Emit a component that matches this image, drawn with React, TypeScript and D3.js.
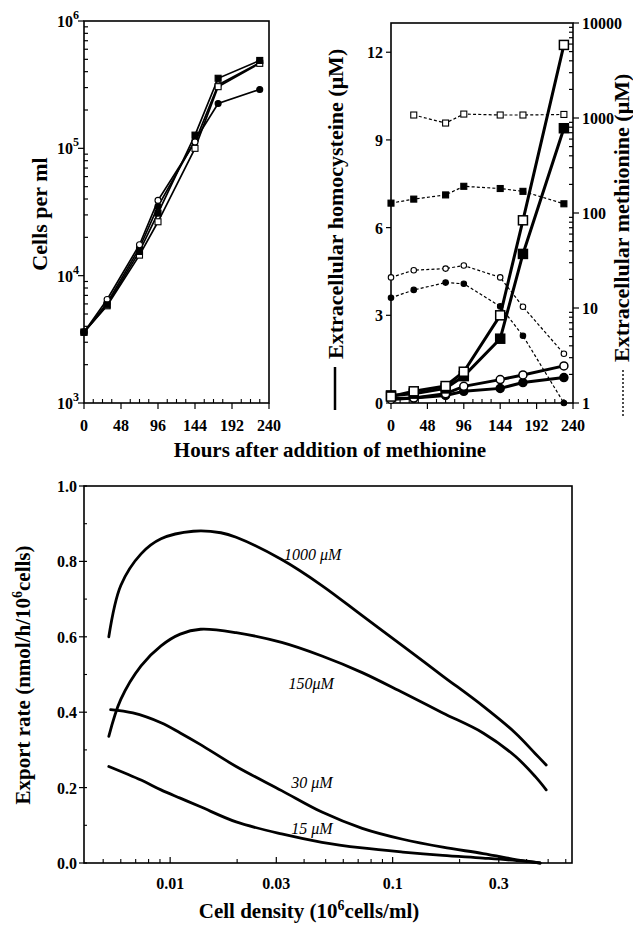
import React from 'react';
import * as d3 from 'd3';

// ---------- Panel A: growth curves ----------
const hours = [0, 30, 72, 96, 144, 174, 228];
const cellsFilledSquare = [3600, 5900, 15500, 31000, 127000, 355000, 490000];
const cellsOpenSquare = [3600, 5800, 14500, 26500, 100000, 305000, 465000];
const cellsFilledCircle = [3600, 6100, 16500, 35000, 115000, 225000, 290000];
const cellsOpenCircle = [3600, 6500, 17500, 39000, 112000, 315000, 470000];

// ---------- Panel B: homocysteine (solid, left) & methionine (dotted, right) ----------
const hcyOpenSquare = [0.22, 0.4, 0.58, 1.07, 3.0, 6.25, 12.25];
const hcyFilledSquare = [0.26, 0.32, 0.5, 0.92, 2.2, 5.1, 9.4];
const hcyOpenCircle = [0.12, 0.17, 0.32, 0.57, 0.8, 0.96, 1.27];
const hcyFilledCircle = [0.15, 0.17, 0.26, 0.4, 0.5, 0.7, 0.87];

const metOpenSquare: (number | null)[] = [null, 1075, 885, 1100, 1075, 1075, 1090];
const metFilledSquare = [127, 140, 155, 191, 181, 169, 125];
const metOpenCircle = [21, 25, 26, 28, 21, 10.3, 3.3];
const metFilledCircle = [12.8, 15.5, 18.5, 18, 10.4, 5.1, 1.0];

const hourTicks = [0, 48, 96, 144, 192, 240];
const cellTickExps = [3, 4, 5, 6];
const hcyTicks = [0, 3, 6, 9, 12];
const metTicks = [1, 10, 100, 1000, 10000];

// ---------- Panel C: export rate vs cell density ----------
const c1000Density = [0.0053, 0.006, 0.0074, 0.0091, 0.0127, 0.0169, 0.0198, 0.0317, 0.0481, 0.073, 0.111, 0.168, 0.255, 0.356, 0.438, 0.49];
const c1000Rate = [0.6, 0.736, 0.82, 0.86, 0.88, 0.876, 0.864, 0.805, 0.736, 0.656, 0.576, 0.496, 0.416, 0.345, 0.29, 0.26];
const c150Density = [0.0053, 0.006, 0.0074, 0.0091, 0.0111, 0.0137, 0.0198, 0.0317, 0.0481, 0.073, 0.111, 0.168, 0.255, 0.356, 0.438, 0.49];
const c150Rate = [0.336, 0.434, 0.523, 0.576, 0.607, 0.62, 0.611, 0.585, 0.549, 0.505, 0.452, 0.398, 0.345, 0.283, 0.229, 0.194];
const c30Density = [0.0054, 0.0068, 0.0091, 0.0111, 0.0137, 0.0198, 0.0317, 0.0481, 0.073, 0.111, 0.168, 0.255, 0.386, 0.46];
const c30Rate = [0.407, 0.398, 0.372, 0.345, 0.314, 0.256, 0.192, 0.135, 0.092, 0.063, 0.042, 0.025, 0.006, 0];
const c15Density = [0.0053, 0.0074, 0.0091, 0.0111, 0.0137, 0.0198, 0.0317, 0.0481, 0.073, 0.111, 0.168, 0.255, 0.386, 0.46];
const c15Rate = [0.256, 0.22, 0.194, 0.172, 0.149, 0.109, 0.077, 0.055, 0.04, 0.029, 0.02, 0.013, 0.005, 0];

const curveLabels = ['1000 \u03bcM', '150\u03bcM', '30 \u03bcM', '15 \u03bcM'];
const curveLabelDensity = [0.0325, 0.034, 0.035, 0.035];
const curveLabelRate = [0.805, 0.462, 0.198, 0.078];

const densityTicks = [0.01, 0.03, 0.1, 0.3];
const densityTickLabels = ['0.01', '0.03', '0.1', '0.3'];
const densityMinor = [0.005, 0.006, 0.007, 0.008, 0.009, 0.02, 0.04, 0.05, 0.06, 0.07, 0.08, 0.09, 0.2, 0.4, 0.5, 0.6];
const rateTicks = [0, 0.2, 0.4, 0.6, 0.8, 1.0];
const rateMinor = [0.1, 0.3, 0.5, 0.7, 0.9];

const titleCells = 'Cells per ml';
const titleHcy = 'Extracellular homocysteine (\u03bcM)';
const titleMet = 'Extracellular methionine (\u03bcM)';
const titleHours = 'Hours after addition of methionine';

const FONT = "'Liberation Serif', 'Times New Roman', serif";

type Shape = 'square' | 'circle';

function Marker({ x, y, shape, filled, size, sw }: { x: number; y: number; shape: Shape; filled: boolean; size: number; sw: number }) {
  if (shape === 'square') {
    return <rect x={x - size / 2} y={y - size / 2} width={size} height={size} fill={filled ? '#000' : '#fff'} stroke="#000" strokeWidth={sw} />;
  }
  return <circle cx={x} cy={y} r={size / 2} fill={filled ? '#000' : '#fff'} stroke="#000" strokeWidth={sw} />;
}

export default function App() {
  const W = 633;
  const H = 925;

  const xA = d3.scaleLinear().domain([0, 240]).range([84, 269]);
  const yA = d3.scaleLog().domain([1e3, 1e6]).range([403, 21]);
  const xB = d3.scaleLinear().domain([0, 240]).range([391, 573]);
  const yBl = d3.scaleLinear().domain([0, 13]).range([403, 23]);
  const yBr = d3.scaleLog().domain([1, 10000]).range([403, 23]);
  const xC = d3.scaleLog().domain([0.0041, 0.64]).range([84, 572]);
  const yC = d3.scaleLinear().domain([0, 1]).range([863, 486]);

  const hourMinor = d3.range(0, 241, 12).filter((h) => h % 48 !== 0);

  const lineA = (vals: number[]) =>
    d3.line<number>().x((_, i) => xA(hours[i])).y((d) => yA(d))(vals) || '';
  const lineBl = (vals: number[]) =>
    d3.line<number>().x((_, i) => xB(hours[i])).y((d) => yBl(d))(vals) || '';
  const lineBr = (vals: (number | null)[]) =>
    d3
      .line<number | null>()
      .defined((d) => d !== null)
      .x((_, i) => xB(hours[i]))
      .y((d) => yBr(d as number))(vals) || '';
  const lineC = (xs: number[], ys: number[]) =>
    d3
      .line<number>()
      .curve(d3.curveCatmullRom.alpha(0.5))
      .x((d) => xC(d))
      .y((_, i) => yC(ys[i]))(xs) || '';

  const seriesA: { vals: number[]; shape: Shape; filled: boolean }[] = [
    { vals: cellsFilledCircle, shape: 'circle', filled: true },
    { vals: cellsOpenCircle, shape: 'circle', filled: false },
    { vals: cellsOpenSquare, shape: 'square', filled: false },
    { vals: cellsFilledSquare, shape: 'square', filled: true },
  ];
  const seriesHcy: { vals: number[]; shape: Shape; filled: boolean }[] = [
    { vals: hcyFilledCircle, shape: 'circle', filled: true },
    { vals: hcyOpenCircle, shape: 'circle', filled: false },
    { vals: hcyFilledSquare, shape: 'square', filled: true },
    { vals: hcyOpenSquare, shape: 'square', filled: false },
  ];
  const seriesMet: { vals: (number | null)[]; shape: Shape; filled: boolean }[] = [
    { vals: metOpenSquare, shape: 'square', filled: false },
    { vals: metFilledSquare, shape: 'square', filled: true },
    { vals: metOpenCircle, shape: 'circle', filled: false },
    { vals: metFilledCircle, shape: 'circle', filled: true },
  ];
  const curves = [
    { xs: c1000Density, ys: c1000Rate },
    { xs: c150Density, ys: c150Rate },
    { xs: c30Density, ys: c30Rate },
    { xs: c15Density, ys: c15Rate },
  ];

  const tickFont = 16;
  const titleFont = 21;
  const sideTitleFont = 22;
  const axisSW = 1.6;

  return (
    <svg
      width={W}
      height={H}
      style={{ position: 'absolute', left: 0, top: 0, display: 'block', background: '#fff' }}
      fontFamily={FONT}
    >
      <rect width={W} height={H} fill="#fff" />

      {/* ================= Panel A ================= */}
      <g>
        <rect x={84} y={21} width={185} height={382} fill="none" stroke="#000" strokeWidth={axisSW} />
        {yA.ticks().map((t, i) => {
          const major = cellTickExps.some((e) => Math.abs(t - Math.pow(10, e)) < 1e-6);
          return (
            <line key={'ya' + i} x1={major ? 78 : 84} x2={major ? 84 : 88} y1={yA(t)} y2={yA(t)} stroke="#000" strokeWidth={1.2} />
          );
        })}
        {cellTickExps.map((e) => (
          <text key={'yal' + e} x={79} y={yA(Math.pow(10, e)) + 6} textAnchor="end" fontSize={tickFont} fontWeight="bold">
            <tspan>10</tspan>
            <tspan dy={-8} fontSize={12}>{e}</tspan>
          </text>
        ))}
        {hourTicks.map((h) => (
          <line key={'xam' + h} x1={xA(h)} x2={xA(h)} y1={403} y2={409} stroke="#000" strokeWidth={1.2} />
        ))}
        {hourMinor.map((h) => (
          <line key={'xan' + h} x1={xA(h)} x2={xA(h)} y1={403} y2={399} stroke="#000" strokeWidth={1.1} />
        ))}
        {hourTicks.map((h) => (
          <text key={'xal' + h} x={xA(h)} y={431} textAnchor="middle" fontSize={tickFont} fontWeight="bold">
            {h}
          </text>
        ))}
        {seriesA.map((s, k) => (
          <path key={'pa' + k} d={lineA(s.vals)} fill="none" stroke="#000" strokeWidth={1.7} />
        ))}
        {seriesA.map((s, k) =>
          s.vals.map((v, i) => (
            <Marker key={'ma' + k + '-' + i} x={xA(hours[i])} y={yA(v)} shape={s.shape} filled={s.filled} size={6} sw={1.1} />
          ))
        )}
        <text transform="translate(47,214) rotate(-90)" textAnchor="middle" fontSize={sideTitleFont} fontWeight="bold">
          {titleCells}
        </text>
      </g>

      {/* ================= Panel B ================= */}
      <g>
        <rect x={391} y={23} width={182} height={380} fill="none" stroke="#000" strokeWidth={axisSW} />
        {hcyTicks.map((t) => (
          <line key={'ybl' + t} x1={386} x2={391} y1={yBl(t)} y2={yBl(t)} stroke="#000" strokeWidth={1.2} />
        ))}
        {hcyTicks.map((t) => (
          <text key={'ybll' + t} x={383} y={yBl(t) + 6} textAnchor="end" fontSize={tickFont} fontWeight="bold">
            {t}
          </text>
        ))}
        {yBr.ticks().map((t, i) => {
          const major = metTicks.some((m) => Math.abs(t - m) < 1e-6);
          return (
            <line key={'ybr' + i} x1={major ? 573 : 569} x2={major ? 579 : 573} y1={yBr(t)} y2={yBr(t)} stroke="#000" strokeWidth={1.2} />
          );
        })}
        {metTicks.map((t) => (
          <text key={'ybrl' + t} x={582} y={yBr(t) + 6} textAnchor="start" fontSize={tickFont} fontWeight="bold">
            {t}
          </text>
        ))}
        {hourTicks.map((h) => (
          <line key={'xbm' + h} x1={xB(h)} x2={xB(h)} y1={403} y2={409} stroke="#000" strokeWidth={1.2} />
        ))}
        {hourMinor.map((h) => (
          <line key={'xbn' + h} x1={xB(h)} x2={xB(h)} y1={403} y2={399} stroke="#000" strokeWidth={1.1} />
        ))}
        {hourTicks.map((h) => (
          <text key={'xbl' + h} x={xB(h)} y={431} textAnchor="middle" fontSize={tickFont} fontWeight="bold">
            {h}
          </text>
        ))}
        {seriesMet.map((s, k) => (
          <path key={'pm' + k} d={lineBr(s.vals)} fill="none" stroke="#000" strokeWidth={1.2} strokeDasharray="3,2.2" />
        ))}
        {seriesMet.map((s, k) =>
          s.vals.map((v, i) =>
            v === null ? null : (
              <Marker key={'mm' + k + '-' + i} x={xB(hours[i])} y={yBr(v)} shape={s.shape} filled={s.filled} size={s.shape === 'square' ? 6 : 5.5} sw={1.1} />
            )
          )
        )}
        {seriesHcy.map((s, k) => (
          <path key={'ph' + k} d={lineBl(s.vals)} fill="none" stroke="#000" strokeWidth={3} />
        ))}
        {seriesHcy.map((s, k) =>
          s.vals.map((v, i) => (
            <Marker key={'mh' + k + '-' + i} x={xB(hours[i])} y={yBl(v)} shape={s.shape} filled={s.filled} size={s.shape === 'square' ? 9 : 8} sw={1.5} />
          ))
        )}
        <line x1={335} x2={335} y1={367} y2={410} stroke="#000" strokeWidth={2.5} />
        <text transform="translate(343,359) rotate(-90)" textAnchor="start" fontSize={sideTitleFont} fontWeight="bold">
          {titleHcy}
        </text>
        <line x1={623} x2={623} y1={370} y2={418} stroke="#000" strokeWidth={1.4} strokeDasharray="2,2" />
        <text transform="translate(629,362) rotate(-90)" textAnchor="start" fontSize={sideTitleFont} fontWeight="bold">
          {titleMet}
        </text>
      </g>

      <text x={330} y={457} textAnchor="middle" fontSize={titleFont} fontWeight="bold">
        {titleHours}
      </text>

      {/* ================= Panel C ================= */}
      <g>
        <rect x={84} y={486} width={488} height={377} fill="none" stroke="#000" strokeWidth={axisSW} />
        {rateTicks.map((t) => (
          <line key={'ycm' + t} x1={79} x2={87} y1={yC(t)} y2={yC(t)} stroke="#000" strokeWidth={1.2} />
        ))}
        {rateMinor.map((t) => (
          <line key={'ycn' + t} x1={84} x2={87} y1={yC(t)} y2={yC(t)} stroke="#000" strokeWidth={1.1} />
        ))}
        {rateTicks.map((t) => (
          <text key={'ycl' + t} x={77} y={yC(t) + 6} textAnchor="end" fontSize={tickFont} fontWeight="bold">
            {t.toFixed(1)}
          </text>
        ))}
        {densityTicks.map((t) => (
          <line key={'xcm' + t} x1={xC(t)} x2={xC(t)} y1={863} y2={857} stroke="#000" strokeWidth={1.2} />
        ))}
        {densityMinor.map((t) => (
          <line key={'xcn' + t} x1={xC(t)} x2={xC(t)} y1={863} y2={859} stroke="#000" strokeWidth={1.1} />
        ))}
        {densityTicks.map((t, i) => (
          <text key={'xcl' + t} x={xC(t)} y={889} textAnchor="middle" fontSize={tickFont} fontWeight="bold">
            {densityTickLabels[i]}
          </text>
        ))}
        {curves.map((c, k) => (
          <path key={'pc' + k} d={lineC(c.xs, c.ys)} fill="none" stroke="#000" strokeWidth={2.8} strokeLinecap="round" />
        ))}
        {curveLabels.map((l, k) => (
          <text key={'cl' + k} x={xC(curveLabelDensity[k])} y={yC(curveLabelRate[k])} fontSize={16} fontStyle="italic">
            {l}
          </text>
        ))}
        <text transform="translate(30,675) rotate(-90)" textAnchor="middle" fontSize={titleFont} fontWeight="bold">
          <tspan>Export rate (nmol/h/10</tspan>
          <tspan dy={-8} fontSize={14}>6</tspan>
          <tspan dy={8}>cells)</tspan>
        </text>
        <text x={309} y={918} textAnchor="middle" fontSize={titleFont} fontWeight="bold">
          <tspan>Cell density (10</tspan>
          <tspan dy={-8} fontSize={14}>6</tspan>
          <tspan dy={8}>cells/ml)</tspan>
        </text>
      </g>
    </svg>
  );
}
